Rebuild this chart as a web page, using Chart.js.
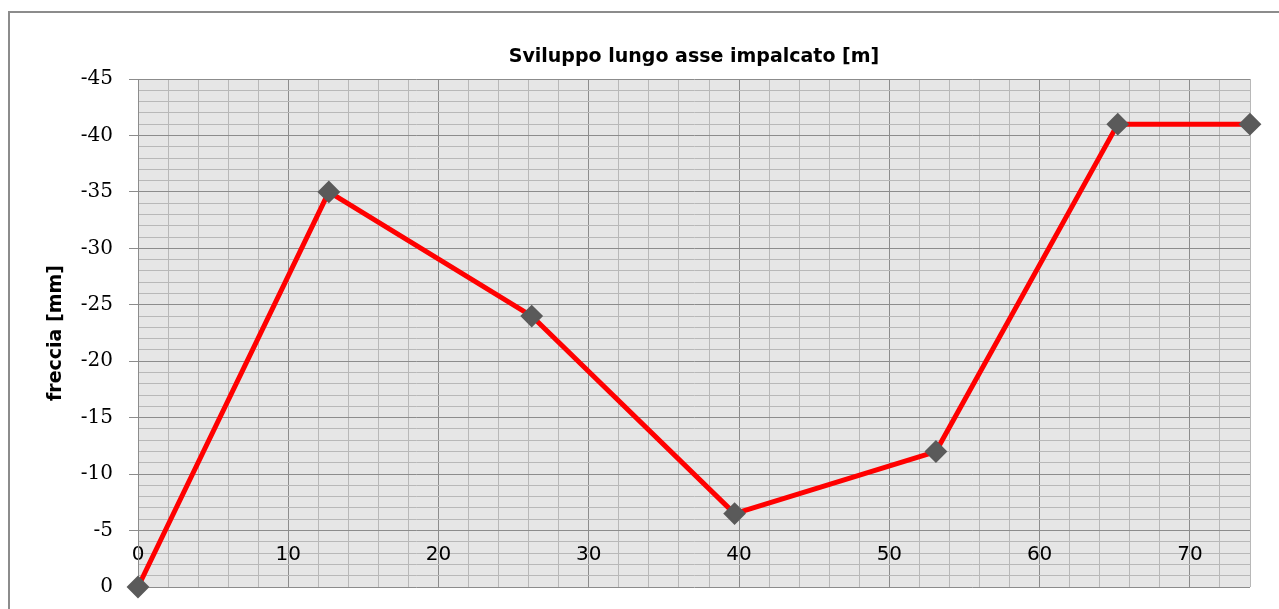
<!DOCTYPE html>
<html>
<head>
<meta charset="utf-8">
<title>Freccia impalcato</title>
<script src="https://cdn.jsdelivr.net/npm/chart.js@4.4.1/dist/chart.umd.min.js"></script>
<style>
    html, body { margin: 0; padding: 0; background: #ffffff; }
    #wrap { position: relative; width: 1279px; height: 609px; overflow: hidden; }
    #frame {
        position: absolute; left: 8px; top: 11px; width: 1400px; height: 700px;
        border-left: 2px solid #8c8c8c; border-top: 2px solid #8c8c8c;
    }
    #chart { position: absolute; left: 0; top: 0; }
</style>
</head>
<body>
<div id="wrap">
    <div id="frame"></div>
    <canvas id="chart" width="1279" height="609"></canvas>
</div>
<script>
// Progressiva lungo l'asse [m] e freccia misurata [mm]
const progressive = [0, 12.7, 26.2, 39.7, 53.1, 65.2, 74];
const freccia = [0, -35, -24, -6.5, -12, -41, -41];

// Assi
const xMin = 0, xMax = 74, xMajor = 10, xMinor = 2;
const yMin = -45, yMax = 0, yMajor = 5, yMinor = 1;

const majorGrid = '#8c8c8c';
const minorGrid = '#b8b8b8';

// Plot area background
const plotBackground = {
    id: 'plotBackground',
    beforeDraw(chart) {
        const { ctx, chartArea } = chart;
        ctx.save();
        ctx.fillStyle = '#e6e6e6';
        ctx.fillRect(chartArea.left, chartArea.top, chartArea.right - chartArea.left, chartArea.bottom - chartArea.top);
        ctx.restore();
    }
};

function isMajor(value, step) {
    return Math.abs(value / step - Math.round(value / step)) < 1e-6;
}

const points = progressive.map(function (x, i) {
    return { x: x, y: freccia[i] };
});

new Chart(document.getElementById('chart'), {
    type: 'line',
    data: {
        datasets: [{
            label: 'freccia',
            data: points,
            borderColor: '#ff0000',
            borderWidth: 5,
            borderJoinStyle: 'round',
            borderCapStyle: 'round',
            tension: 0,
            fill: false,
            pointStyle: 'rectRot',
            pointRadius: 10,
            pointBorderWidth: 2,
            pointBackgroundColor: '#5a5a5a',
            pointBorderColor: '#5a5a5a',
            clip: false
        }]
    },
    options: {
        responsive: false,
        animation: false,
        events: [],
        layout: {
            padding: { left: 0, right: 29, top: 0, bottom: 22 }
        },
        scales: {
            x: {
                type: 'linear',
                position: { y: -5 },
                min: xMin,
                max: xMax,
                border: { display: false },
                grid: {
                    drawTicks: false,
                    lineWidth: 1,
                    color: function (ctx) {
                        return ctx.tick && isMajor(ctx.tick.value, xMajor) ? majorGrid : minorGrid;
                    }
                },
                ticks: {
                    stepSize: xMinor,
                    autoSkip: false,
                    maxRotation: 0,
                    padding: 12,
                    color: '#000000',
                    font: { family: 'DejaVu Sans', size: 20 },
                    callback: function (value) {
                        return isMajor(value, xMajor) ? String(value) : '';
                    }
                }
            },
            y: {
                type: 'linear',
                position: 'left',
                min: yMin,
                max: yMax,
                reverse: true,
                afterFit: function (scale) {
                    // fixed axis width, no extra room for the end labels
                    scale.width = 138;
                    scale.paddingTop = 0;
                    scale.paddingBottom = 0;
                },
                border: { display: true, color: majorGrid, width: 1 },
                grid: {
                    drawTicks: true,
                    tickLength: 9,
                    lineWidth: 1,
                    color: function (ctx) {
                        return ctx.tick && isMajor(ctx.tick.value, yMajor) ? majorGrid : minorGrid;
                    },
                    tickColor: function (ctx) {
                        return ctx.tick && isMajor(ctx.tick.value, yMajor) ? majorGrid : 'rgba(0,0,0,0)';
                    }
                },
                ticks: {
                    stepSize: yMinor,
                    autoSkip: false,
                    padding: 16,
                    color: '#000000',
                    font: { family: 'DejaVu Serif', size: 20 },
                    callback: function (value) {
                        return isMajor(value, yMajor) ? String(value) : '';
                    }
                },
                title: {
                    display: true,
                    text: 'freccia [mm]',
                    color: '#000000',
                    font: { family: 'DejaVu Sans', size: 19, weight: 'bold' },
                    padding: { top: 45, bottom: 0 }
                }
            }
        },
        plugins: {
            legend: { display: false },
            tooltip: { enabled: false },
            title: {
                display: true,
                fullSize: false,
                text: 'Sviluppo lungo asse impalcato [m]',
                color: '#000000',
                font: { family: 'DejaVu Sans', size: 19, weight: 'bold' },
                padding: { top: 46, bottom: 10.2 }
            }
        }
    },
    plugins: [plotBackground]
});
</script>
</body>
</html>
